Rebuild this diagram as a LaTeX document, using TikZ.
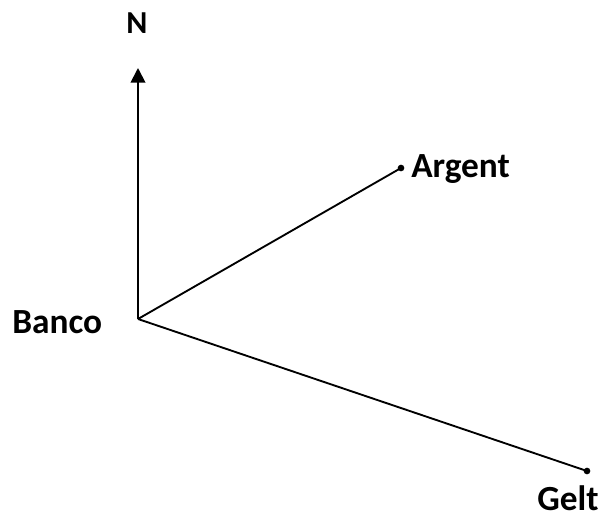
\documentclass[tikz,border=0pt]{standalone}
\usepackage{fontspec}
\setmainfont{Carlito}
\usetikzlibrary{arrows.meta}
\begin{document}
\begin{tikzpicture}[x=0.75pt,y=-0.75pt,
  lbl/.style={font=\bfseries\fontsize{26.5}{30}\selectfont, inner sep=0pt, anchor=base west},
  ln/.style={line width=1.4pt},
  dot/.style={circle, fill=black, inner sep=0pt, minimum size=5pt}]
\useasboundingbox (0,0) rectangle (605,517);
\coordinate (O) at (138,319);
\coordinate (Ntip) at (138,68);
\node[dot] (A) at (401,168) {};
\node[dot] (G) at (587,471) {};
\draw[ln,-{Triangle[length=11pt,width=11pt]}] (O) -- (Ntip);
\draw[ln] (O) -- (A.center);
\draw[ln] (O) -- (G.center);
\node[lbl, font=\bfseries\fontsize{24}{28}\selectfont] (Nl) at (126,34) {N};
\node[lbl] (Al) at (411,177) {Argent};
\node[lbl] (Bl) at (12,333) {Banco};
\node[lbl] (Gl) at (537,510) {Gelt};
\end{tikzpicture}
\end{document}
